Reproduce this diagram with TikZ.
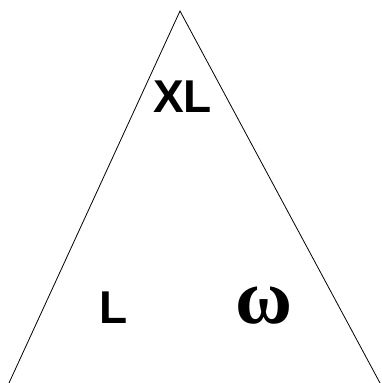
\documentclass[tikz,border=0pt]{standalone}
\usepackage{fontspec}
\setmainfont{Liberation Sans}
\newfontfamily\serifom{Liberation Serif}
\begin{document}
\begin{tikzpicture}[x=1pt,y=1pt,
  lbl/.style={inner sep=0pt,anchor=base,font=\fontsize{46}{50}\selectfont\bfseries}]
\useasboundingbox (0,0) rectangle (381,383);
\coordinate (apex) at (180,372);
\coordinate (bl) at (9,0);
\coordinate (br) at (380,0);
\draw[line width=0.8pt] (bl) -- (apex) -- (br);
\node[lbl] (xl) at (182.5,270) {XL};
\node[lbl] (l) at (113.5,59) {L};
\node[lbl,font=\fontsize{78}{80}\selectfont\serifom\bfseries] (om) at (264,59) {ω};
\end{tikzpicture}
\end{document}
